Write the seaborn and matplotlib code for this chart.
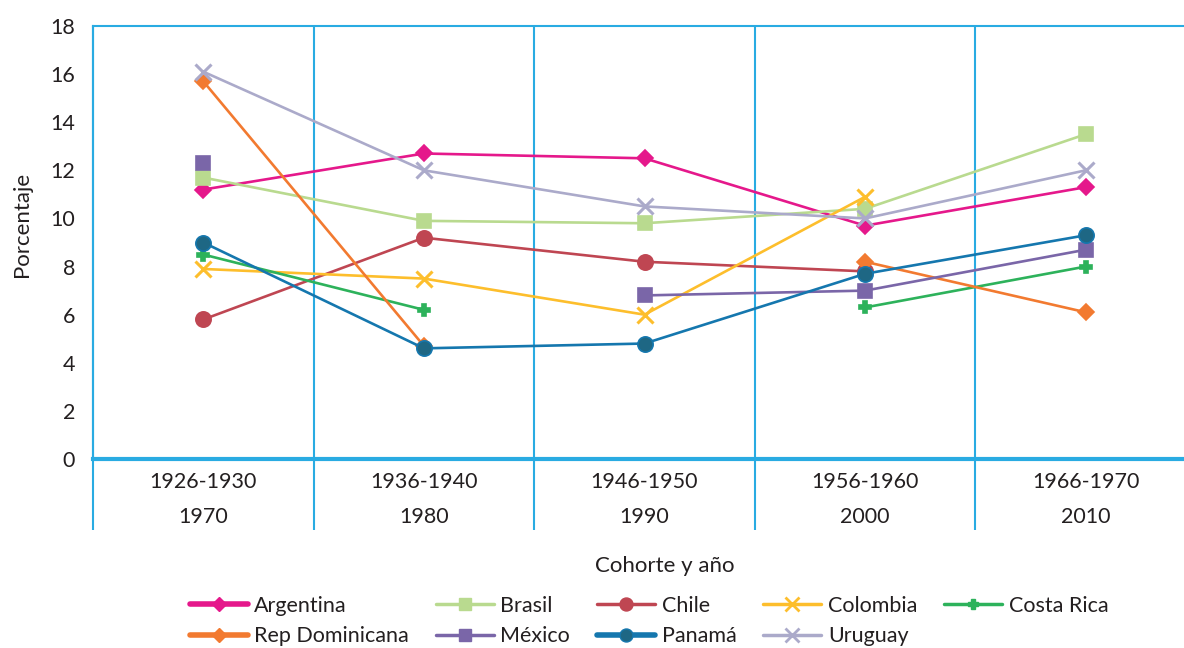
import numpy as np
import pandas as pd
import matplotlib
matplotlib.use("Agg")
import matplotlib.pyplot as plt
import seaborn as sns
from matplotlib.lines import Line2D

# ---------------- data ----------------
cohorts = ["1926-1930", "1936-1940", "1946-1950", "1956-1960", "1966-1970"]
years = ["1970", "1980", "1990", "2000", "2010"]
countries = ["Argentina", "Brasil", "Chile", "Colombia", "Costa Rica",
             "Rep Dominicana", "México", "Panamá", "Uruguay"]
nan = np.nan
argentina = [11.2, 12.7, 12.5, 9.7, 11.3]
brasil = [11.7, 9.9, 9.8, 10.4, 13.5]
chile = [5.8, 9.2, 8.2, 7.8, nan]
colombia = [7.9, 7.5, 6.0, 10.9, nan]
costa_rica = [8.5, 6.2, nan, 6.3, 8.0]
rep_dominicana = [15.7, 4.7, nan, 8.2, 6.1]
mexico = [12.3, nan, 6.8, 7.0, 8.7]
panama = [9.0, 4.6, 4.8, 7.7, 9.3]
uruguay = [16.1, 12.0, 10.5, 10.0, 12.0]
series = [argentina, brasil, chile, colombia, costa_rica,
          rep_dominicana, mexico, panama, uruguay]

# ---------------- styles ----------------
colors = {"Argentina": "#E5188B", "Brasil": "#B9DA8F", "Chile": "#BF4652",
          "Colombia": "#FDBE2C", "Costa Rica": "#2DB25B",
          "Rep Dominicana": "#F27A30", "México": "#7A66A8",
          "Panamá": "#1577AE", "Uruguay": "#ABAACA"}
markers = {"Argentina": "D", "Brasil": "s", "Chile": "o", "Colombia": "x",
           "Costa Rica": "P", "Rep Dominicana": "D", "México": "s",
           "Panamá": "o", "Uruguay": "x"}
msize = {"Argentina": 8, "Brasil": 10.5, "Chile": 11, "Colombia": 12,
         "Costa Rica": 9, "Rep Dominicana": 8, "México": 10.5,
         "Panamá": 11, "Uruguay": 12}
face = {"Panamá": "#1E6784"}
frame_c = "#29ABE2"

# long data with segment ids so gaps break the lines
rows = []
for name, vals in zip(countries, series):
    seg = 0
    prev_nan = False
    for i, v in enumerate(vals):
        if np.isnan(v):
            prev_nan = True
            continue
        if prev_nan:
            seg += 1
            prev_nan = False
        rows.append({"country": name, "x": i, "value": v, "seg": f"{name}-{seg}"})
df = pd.DataFrame(rows)

sns.set_theme(style="white")
plt.rcParams["font.family"] = ["Lato", "DejaVu Sans"]

fig = plt.figure(figsize=(11.84, 6.48), dpi=100)
ax = fig.add_axes([93 / 1184, 189 / 648, 1103 / 1184, 433 / 648])

sns.lineplot(data=df, x="x", y="value", hue="country",
             units="seg", estimator=None, sort=False,
             hue_order=countries, palette=colors,
             linewidth=1.9, legend=False, ax=ax)

col2name = {matplotlib.colors.to_hex(c): n for n, c in colors.items()}
for ln in ax.lines:
    n = col2name.get(matplotlib.colors.to_hex(ln.get_color()))
    if n is None:
        continue
    ln.set_marker(markers[n])
    ln.set_markersize(msize[n])
    ln.set_markeredgecolor(colors[n])
    ln.set_markerfacecolor(face.get(n, colors[n]))
    ln.set_markeredgewidth(2.2 if markers[n] in ("x",) else 1.2)
    ln.set_clip_on(False)

ax.set_xlim(-0.5, 4.5)
ax.set_ylim(0, 18)
ax.set_yticks(range(0, 19, 2))
ax.set_xticks(range(5))
ax.set_xticklabels([f"{c}\n{y}" for c, y in zip(cohorts, years)],
                   linespacing=1.95)
ax.tick_params(axis="both", length=0, labelsize=15.5, colors="#231F20")
ax.tick_params(axis="y", pad=13)
ax.tick_params(axis="x", pad=9)
ax.set_xlabel("")
ax.set_ylabel("")

for s in ["left", "top", "right"]:
    ax.spines[s].set_color(frame_c)
    ax.spines[s].set_linewidth(1.5)
ax.spines["bottom"].set_color(frame_c)
ax.spines["bottom"].set_linewidth(3)

# vertical separators extending below the axis
ax.vlines(np.arange(-0.5, 5, 1.0), ymin=-71 / 433, ymax=1,
          transform=ax.get_xaxis_transform(), colors=frame_c,
          linewidth=1.5, clip_on=False, zorder=0)

fig.text(22 / 1184, 1 - 224 / 648, "Porcentaje", rotation=90,
         ha="center", va="center", fontsize=16, color="#231F20")
fig.text(665 / 1184, 1 - 566 / 648, "Cohorte y año",
         ha="center", va="center", fontsize=16, color="#231F20")

# legend (row-major visual order -> column-major handle order)
lw_leg = {"Argentina": 4, "Rep Dominicana": 4, "Panamá": 4}
handles = {}
for n in countries:
    handles[n] = Line2D([], [], color=colors[n], lw=lw_leg.get(n, 2.5),
                        marker=markers[n], markersize=msize[n] * 0.85,
                        markerfacecolor=face.get(n, colors[n]),
                        markeredgecolor=colors[n],
                        markeredgewidth=2 if markers[n] == "x" else 1)
order = ["Argentina", "Rep Dominicana", "Brasil", "México", "Chile",
         "Panamá", "Colombia", "Uruguay", "Costa Rica"]
fig.legend([handles[n] for n in order], order, loc="center",
           bbox_to_anchor=(649 / 1184, 1 - 621 / 648), ncol=5,
           frameon=False, fontsize=15.5, handlelength=2.7,
           handletextpad=0.3, columnspacing=1.25, labelspacing=0.5,
           borderaxespad=0, labelcolor="#231F20")

fig.savefig("out.png", dpi=100)
